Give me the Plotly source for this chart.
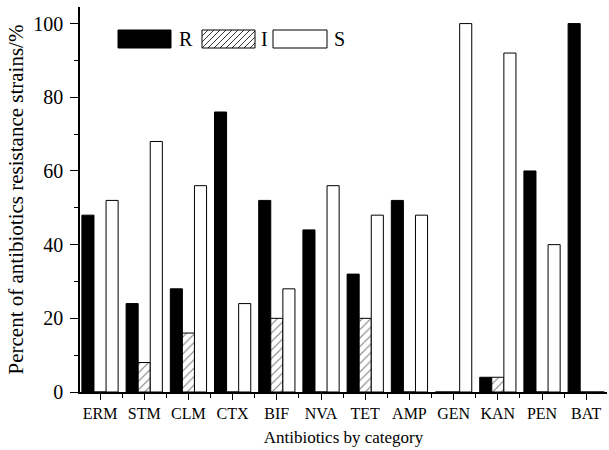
import plotly.graph_objects as go

categories = ["ERM", "STM", "CLM", "CTX", "BIF", "NVA", "TET", "AMP", "GEN", "KAN", "PEN", "BAT"]
r_values = [48, 24, 28, 76, 52, 44, 32, 52, 0, 4, 60, 100]
i_values = [0, 8, 16, 0, 20, 0, 20, 0, 0, 4, 0, 0]
s_values = [52, 68, 56, 24, 28, 56, 48, 48, 100, 92, 40, 0]
series_names = ["R", "I", "S"]
y_ticks = [0, 20, 40, 60, 80, 100]

W, H = 609, 450
L, R, T, B = 80, 2, 7, 58
PW, PH = W - L - R, H - T - B
FONT = "Liberation Serif"

x = list(range(len(categories)))

fig = go.Figure()
fig.add_bar(x=x, y=r_values, name=series_names[0],
            marker=dict(color="black", line=dict(color="black", width=1)))
fig.add_bar(x=x, y=i_values, name=series_names[1],
            marker=dict(color="white", line=dict(color="black", width=1),
                        pattern=dict(shape="/", fgcolor="black", bgcolor="white",
                                     size=6, solidity=0.18)))
fig.add_bar(x=x, y=s_values, name=series_names[2],
            marker=dict(color="white", line=dict(color="black", width=1)))


def px(xp):
    return (xp - L) / PW


def py(yp):
    return (H - B - yp) / PH


shapes = []
annotations = []
# legend boxes (pixel layout)
boxes = [(118, 171, "black", 177), (202, 255, "hatch", 259), (273, 327, "white", 332)]
by0, by1 = 30, 48
for (x0, x1, kind, tx), name in zip(boxes, series_names):
    shapes.append(dict(type="rect", xref="paper", yref="paper",
                       x0=px(x0), x1=px(x1), y0=py(by1), y1=py(by0),
                       fillcolor="black" if kind == "black" else "white",
                       line=dict(color="black", width=1)))
    if kind == "hatch":
        h = by1 - by0
        s = 6
        c = x0 - h
        while c < x1:
            xs, xe = max(c, x0), min(c + h, x1)
            if xs < xe:
                ys, ye = by1 - (xs - c), by1 - (xe - c)
                shapes.append(dict(type="line", xref="paper", yref="paper",
                                   x0=px(xs), x1=px(xe), y0=py(ys), y1=py(ye),
                                   line=dict(color="black", width=0.8)))
            c += s
    annotations.append(dict(text=name, xref="paper", yref="paper",
                            x=px(tx), y=py((by0 + by1) / 2), xanchor="left",
                            yanchor="middle", showarrow=False,
                            font=dict(family=FONT, size=20, color="black")))

fig.update_layout(
    width=W, height=H,
    margin=dict(l=L, r=R, t=T, b=B, autoexpand=False),
    paper_bgcolor="white", plot_bgcolor="white",
    barmode="group", bargap=0.18, bargroupgap=0,
    showlegend=False,
    font=dict(family=FONT, size=16, color="black"),
    shapes=shapes, annotations=annotations,
    xaxis=dict(range=[-0.453, 11.47], tickmode="array", tickvals=x, ticktext=categories,
               ticks="outside", ticklen=6, tickwidth=1, tickcolor="black",
               showline=True, linecolor="black", linewidth=1.5,
               showgrid=False, zeroline=False,
               minor=dict(tickmode="linear", tick0=0.5, dtick=1, ticks="outside",
                          ticklen=4, tickwidth=1, tickcolor="black", showgrid=False),
               title=dict(text="Antibiotics by category", font=dict(size=17), standoff=10),
               tickfont=dict(size=16)),
    yaxis=dict(range=[0, 104.5], tickmode="array", tickvals=y_ticks,
               ticks="outside", ticklen=8, tickwidth=1, tickcolor="black",
               showline=True, linecolor="black", linewidth=1.5,
               showgrid=False, zeroline=False, ticklabelstandoff=3,
               minor=dict(tickmode="linear", tick0=10, dtick=20, ticks="outside",
                          ticklen=4, tickwidth=1, tickcolor="black", showgrid=False),
               title=dict(text="Percent of antibiotics resistance strains/%",
                          font=dict(size=21), standoff=4),
               tickfont=dict(size=20)),
)

fig.write_html("out.html", config={"displayModeBar": False},
               post_script="document.body.style.margin='0';document.body.style.overflow='hidden';")
